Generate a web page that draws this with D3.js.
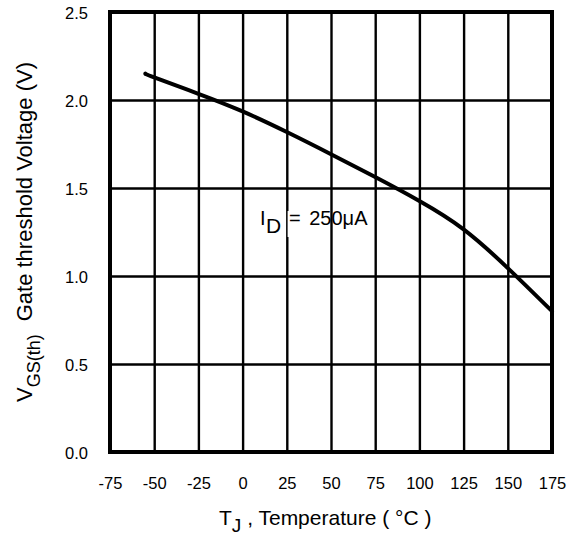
<!DOCTYPE html>
<html>
<head>
<meta charset="utf-8">
<script src="https://cdn.jsdelivr.net/npm/d3@7"></script>
<style>
  html, body { margin: 0; padding: 0; background: #fff; }
  svg { display: block; font-family: "Liberation Sans", Arial, sans-serif; }
</style>
</head>
<body>
<svg id="chart" width="578" height="537"></svg>
<script>
// ---- data ----
const temps = [-55, -50, -25, 0, 25, 50, 75, 100, 125, 150, 175];
const vth   = [2.15, 2.128, 2.035, 1.935, 1.818, 1.692, 1.562, 1.426, 1.265, 1.045, 0.80];
const xTicks = [-75, -50, -25, 0, 25, 50, 75, 100, 125, 150, 175];
const yTicks = [0.0, 0.5, 1.0, 1.5, 2.0, 2.5];
const xTitleMain = "T";
const xTitleSub = "J";
const xTitleRest = " , Temperature ( °C )";
const yTitleMain = "V";
const yTitleSub = "GS(th)";
const yTitleRest = "Gate threshold Voltage (V)";
const annotMain = "I";
const annotSub = "D";
const annotRest = "= 250μA";

// ---- layout ----
const svg = d3.select("#chart");
const L = 110, T = 12, R = 552, B = 452;
const W = R - L, H = B - T;
const FONT = "Liberation Sans, Arial, sans-serif";

const x = d3.scaleLinear().domain([-75, 175]).range([L, R]);
const y = d3.scaleLinear().domain([0, 2.5]).range([B, T]);

// grid (vertical)
svg.append("g")
  .attr("transform", `translate(0,${B})`)
  .call(d3.axisBottom(x).tickValues(xTicks.slice(1, -1)).tickSize(-H).tickFormat(""))
  .call(g => g.select(".domain").remove())
  .call(g => g.selectAll("line").attr("stroke", "#000").attr("stroke-width", 2.4));

// grid (horizontal)
svg.append("g")
  .attr("transform", `translate(${L},0)`)
  .call(d3.axisLeft(y).tickValues(yTicks.slice(1, -1)).tickSize(-W).tickFormat(""))
  .call(g => g.select(".domain").remove())
  .call(g => g.selectAll("line").attr("stroke", "#000").attr("stroke-width", 2.4));

// x tick labels
svg.append("g")
  .attr("transform", `translate(0,${B})`)
  .attr("font-family", FONT)
  .call(d3.axisBottom(x).tickValues(xTicks).tickSize(0).tickPadding(25).tickFormat(d => String(d)))
  .call(g => g.select(".domain").remove())
  .call(g => g.selectAll("text").attr("font-size", 16.5).attr("fill", "#000"));

// y tick labels
svg.append("g")
  .attr("transform", `translate(${L},0)`)
  .attr("font-family", FONT)
  .call(d3.axisLeft(y).tickValues(yTicks).tickSize(0).tickPadding(22).tickFormat(d => d.toFixed(1)))
  .call(g => g.select(".domain").remove())
  .call(g => g.selectAll("text").attr("font-size", 16.5).attr("fill", "#000").attr("dy", "0.4em"));

// curve
const pts = temps.map((t, i) => [t, vth[i]]);
svg.append("path")
  .datum(pts)
  .attr("fill", "none")
  .attr("stroke", "#000")
  .attr("stroke-width", 4)
  .attr("stroke-linecap", "round")
  .attr("d", d3.line().x(d => x(d[0])).y(d => y(d[1])).curve(d3.curveNatural));

// frame
svg.append("rect")
  .attr("x", L).attr("y", T).attr("width", W).attr("height", H)
  .attr("fill", "none").attr("stroke", "#000").attr("stroke-width", 4);

// annotation
svg.append("rect")
  .attr("x", 287.6).attr("y", 211).attr("width", 17).attr("height", 26)
  .attr("fill", "#fff");
const ann = svg.append("text").attr("fill", "#000").attr("font-size", 20).attr("font-family", FONT);
ann.append("tspan").attr("x", 260).attr("y", 225).text(annotMain);
ann.append("tspan").attr("x", 266).attr("y", 233).attr("font-size", 21).text(annotSub);
ann.append("tspan").attr("x", 289).attr("y", 225).attr("word-spacing", 3).text(annotRest);

// x title
const xt = svg.append("text").attr("fill", "#000").attr("font-size", 21).attr("font-family", FONT)
  .attr("x", 219).attr("y", 525);
xt.append("tspan").text(xTitleMain);
xt.append("tspan").attr("dy", 7).attr("font-size", 19).text(xTitleSub);
xt.append("tspan").attr("dy", -7).text(xTitleRest);

// y title
const yt = svg.append("text").attr("fill", "#000").attr("font-size", 22).attr("font-family", FONT)
  .attr("transform", "translate(32,402) rotate(-90)");
yt.append("tspan").text(yTitleMain);
yt.append("tspan").attr("dy", 8).attr("font-size", 18).text(yTitleSub);
yt.append("tspan").attr("dy", -8).attr("dx", 13).text(yTitleRest);
</script>
</body>
</html>
